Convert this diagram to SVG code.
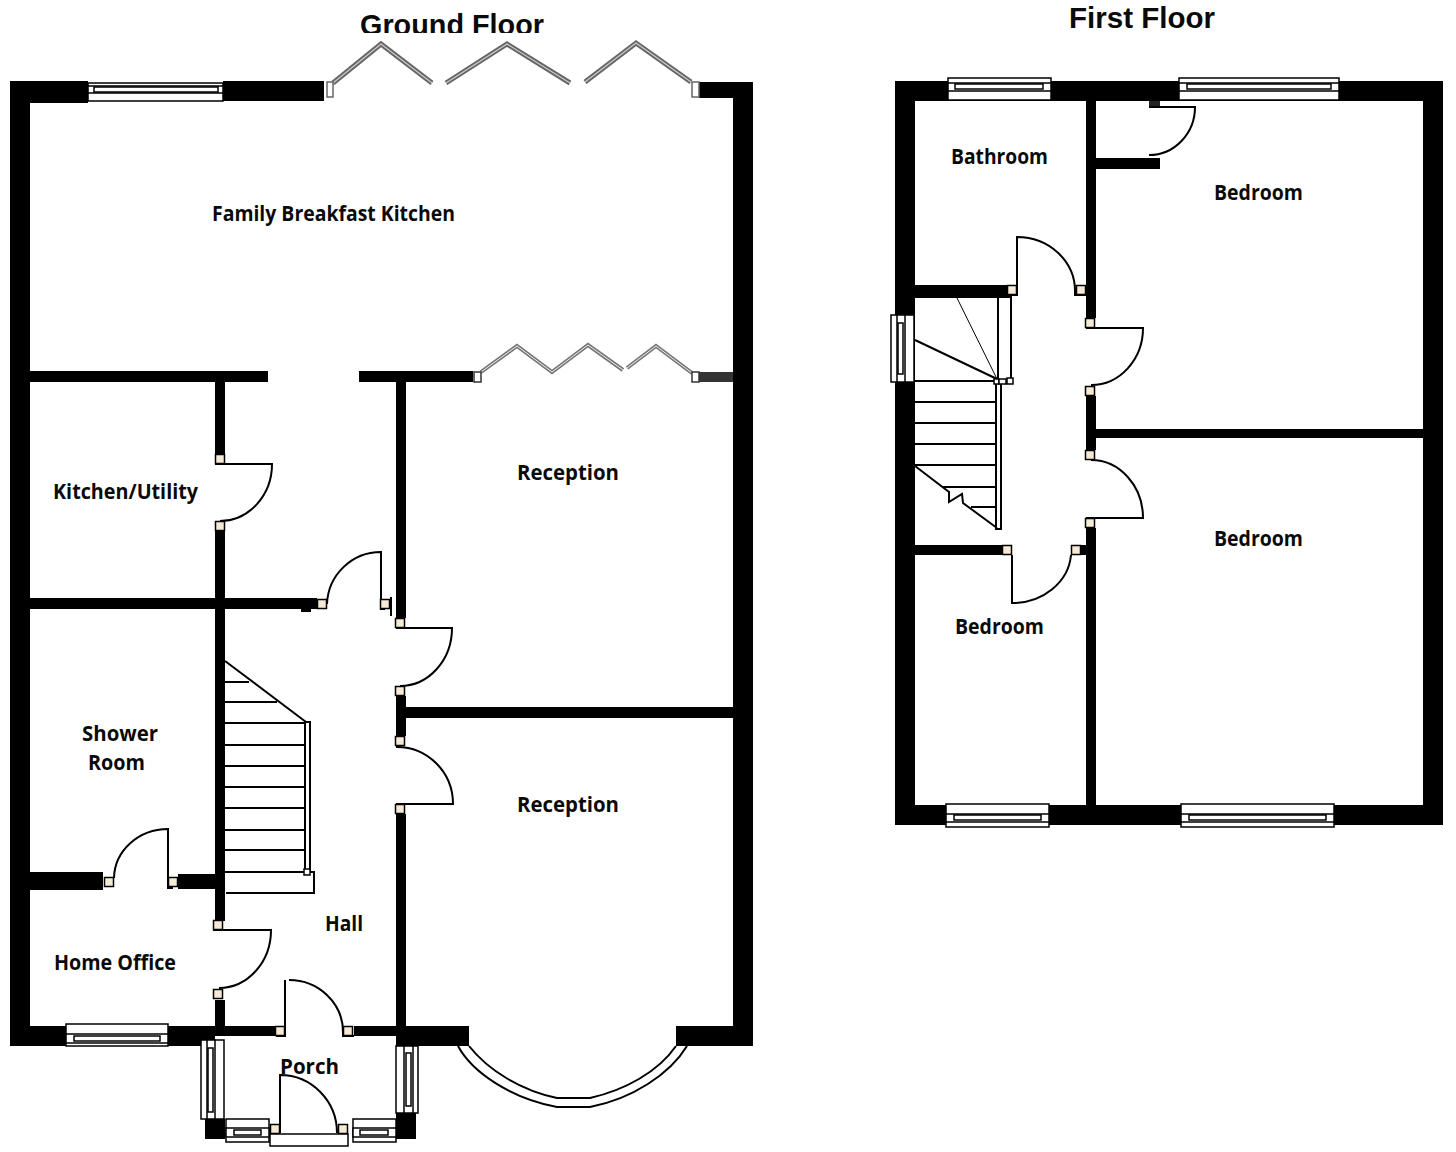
<svg xmlns="http://www.w3.org/2000/svg" width="1456" height="1152" viewBox="0 0 1456 1152">
<style>
.w{fill:#000}
.l{fill:none;stroke:#000;stroke-width:2}
.t{fill:none;stroke:#000;stroke-width:2}
.b{fill:#fff;stroke:#000;stroke-width:1.5}
.s{fill:#fff;stroke:#000;stroke-width:1.5}
.j{fill:#f6ead6;stroke:#000;stroke-width:1.5}
.f1{fill:none;stroke:#666;stroke-width:5}
.f2{fill:none;stroke:#ccc;stroke-width:1.2}
.g1{fill:none;stroke:#777;stroke-width:4}
.g2{fill:none;stroke:#eee;stroke-width:1}
.r{font-family:"Open Sans","DejaVu Sans",sans-serif;font-weight:700;font-size:21.5px;fill:#0a0a0a}
.h{font-family:"Liberation Sans",Arial,sans-serif;font-weight:700;font-size:30px;fill:#0a0a0a}
</style>
<defs>
<rect id="jb" class="j" x="-4.5" y="-4.5" width="9" height="9"/>
</defs>
<rect width="1456" height="1152" fill="#fff"/>

<g id="titles">
<text class="h" x="360" y="35" textLength="184" lengthAdjust="spacingAndGlyphs">Ground Floor</text>
<rect x="340" y="33" width="220" height="8" fill="#fff"/>
<text class="h" x="1069" y="28" textLength="146" lengthAdjust="spacingAndGlyphs">First Floor</text>
</g>

<g id="ground-walls">
<rect class="w" x="10" y="81" width="20" height="965"/>
<rect class="w" x="10" y="81" width="78" height="22"/>
<rect class="w" x="223" y="81" width="101" height="20"/>
<rect class="w" x="699" y="82" width="54" height="16"/>
<rect class="w" x="733" y="82" width="20" height="964"/>
<rect class="w" x="30" y="371" width="238" height="11"/>
<rect class="w" x="359" y="371" width="114" height="11"/>
<rect x="699" y="372" width="34" height="10" fill="#333"/>
<rect class="w" x="215" y="382" width="10" height="73"/>
<rect class="w" x="215" y="531" width="10" height="390"/>
<rect class="w" x="215" y="1000" width="10" height="30"/>
<rect class="w" x="396" y="382" width="10" height="236"/>
<rect class="w" x="396" y="696" width="10" height="40"/>
<rect class="w" x="396" y="814" width="10" height="216"/>
<rect class="w" x="30" y="598" width="287" height="11"/>
<rect class="w" x="301" y="609" width="10" height="3"/>
<rect class="w" x="406" y="707" width="327" height="11"/>
<rect class="w" x="30" y="872" width="73" height="18"/>
<rect class="w" x="178" y="874" width="37" height="15"/>
<rect class="w" x="30" y="1026" width="36" height="20"/>
<rect class="w" x="168" y="1026" width="47" height="20"/>
<rect class="w" x="215" y="1026" width="61" height="10"/>
<rect class="w" x="354" y="1026" width="42" height="10"/>
<rect class="w" x="396" y="1026" width="73" height="20"/>
<rect class="w" x="676" y="1026" width="57" height="20"/>
<rect class="w" x="205" y="1119" width="20" height="20"/>
<rect class="w" x="396" y="1113" width="20" height="26"/>
</g>

<g id="ground-windows">
<g id="gw-rear">
<rect class="b" x="88" y="83" width="135" height="18"/>
<rect class="b" x="88" y="86" width="135" height="7"/>
<rect class="s" x="94" y="87" width="124" height="5"/>
</g>
<g id="gw-office">
<rect class="b" x="66" y="1024" width="102" height="22"/>
<rect class="b" x="66" y="1034" width="102" height="9"/>
<rect class="s" x="74" y="1036" width="86" height="5"/>
</g>
<g id="gw-porch-left">
<rect class="b" x="201" y="1040" width="23" height="79"/>
<rect class="b" x="207" y="1040" width="8" height="79"/>
<rect class="s" x="208" y="1048" width="5" height="64"/>
</g>
<g id="gw-porch-right">
<rect class="b" x="396" y="1046" width="22" height="67"/>
<rect class="b" x="404" y="1046" width="9" height="67"/>
<rect class="s" x="406" y="1053" width="5" height="53"/>
</g>
<g id="gw-porch-bl">
<rect class="b" x="226" y="1119" width="43" height="23"/>
<rect class="b" x="226" y="1128" width="43" height="9"/>
<rect class="s" x="234" y="1130" width="27" height="5"/>
</g>
<g id="gw-porch-br">
<rect class="b" x="353" y="1119" width="43" height="23"/>
<rect class="b" x="353" y="1128" width="43" height="9"/>
<rect class="s" x="360" y="1130" width="28" height="5"/>
</g>
<g id="gw-bay">
<path class="l" d="M469 1046C488 1070 520 1090 557 1098H590C625 1090 658 1072 676 1046"/>
<path class="l" d="M458 1046C472 1072 510 1098 557 1107H590C632 1099 670 1074 687 1046"/>
</g>
</g>

<g id="ground-bifolds">
<path class="f1" d="M333 83L381 44L432 83M446 83L507 44L570 83M585 82L636 43L691 82"/>
<path class="f2" d="M333 83L381 44L432 83M446 83L507 44L570 83M585 82L636 43L691 82"/>
<rect x="327" y="82" width="6" height="15" stroke="#666" stroke-width="1.5" fill="#fff"/>
<rect x="692" y="82" width="7" height="15" stroke="#666" stroke-width="1.5" fill="#fff"/>
<path class="g1" d="M481 372L517 346L552 372L588 345L623 370M627 368L656 346L692 373"/>
<path class="g2" d="M481 372L517 346L552 372L588 345L623 370M627 368L656 346L692 373"/>
<rect x="474" y="372" width="7" height="10" stroke="#333" stroke-width="1.5" fill="#fff"/>
<rect x="692" y="372" width="7" height="10" stroke="#333" stroke-width="1.5" fill="#fff"/>
</g>

<g id="ground-doors">
<path class="l" d="M215 464H272A52 57 0 0 1 220 521"/>
<use href="#jb" x="220" y="459"/><use href="#jb" x="220" y="526"/>
<path class="l" d="M327 604A54 54 0 0 1 381 552V609H385M391 597V616"/>
<use href="#jb" x="322" y="604"/><use href="#jb" x="385" y="604"/>
<path class="l" d="M396 628H452A52 58 0 0 1 400 686"/>
<use href="#jb" x="400" y="623"/><use href="#jb" x="400" y="691"/>
<path class="l" d="M396 747A56 57 0 0 1 453 804H396"/>
<use href="#jb" x="400" y="741"/><use href="#jb" x="400" y="809"/>
<path class="l" d="M114 878A54 50 0 0 1 168 829V888H173"/>
<use href="#jb" x="109" y="882"/><use href="#jb" x="173" y="882"/>
<path class="l" d="M213 930H271A52 58 0 0 1 219 988"/>
<use href="#jb" x="218" y="925"/><use href="#jb" x="218" y="994"/>
<path class="l" d="M276 1036H285V980M289 980A54 52 0 0 1 343 1032V1036H354"/>
<use href="#jb" x="280" y="1031"/><use href="#jb" x="348" y="1031"/>
<path class="l" d="M280 1133V1075A57 58 0 0 1 337 1133"/>
<use href="#jb" x="275" y="1129"/><use href="#jb" x="343" y="1129"/>
<rect class="b" x="270" y="1134" width="78" height="12"/>
</g>

<g id="ground-stairs">
<path class="t" d="M225 661L306 722"/>
<path class="t" d="M225 682H249M225 702H277M225 723H305M225 745H305M225 766H305M225 787H305M225 808H305M225 830H305M225 850H305M225 872H305"/>
<rect class="t" x="305" y="722" width="5" height="150" fill="#fff"/>
<path class="l" d="M226 893H314V872H311"/>
<rect class="s" x="304" y="869" width="6" height="6"/>
</g>

<g id="first-walls">
<rect class="w" x="895" y="81" width="20" height="744"/>
<rect class="w" x="895" y="81" width="548" height="20"/>
<rect class="w" x="1423" y="81" width="20" height="744"/>
<rect class="w" x="895" y="805" width="548" height="20"/>
<rect class="w" x="1086" y="101" width="10" height="217"/>
<rect class="w" x="1086" y="396" width="10" height="54"/>
<rect class="w" x="1086" y="528" width="10" height="277"/>
<rect class="w" x="1096" y="429" width="327" height="9"/>
<rect class="w" x="1096" y="158" width="64" height="11"/>
<rect x="1149" y="101" width="11" height="5" fill="#222"/>
<rect class="w" x="915" y="285" width="93" height="11"/>
<rect class="w" x="915" y="545" width="88" height="10"/>
<rect class="w" x="1081" y="545" width="5" height="10"/>
</g>

<g id="first-windows">
<g id="fw-bath">
<rect class="b" x="948" y="78" width="103" height="22"/>
<rect class="b" x="948" y="83" width="103" height="8"/>
<rect class="s" x="955" y="84" width="88" height="5"/>
</g>
<g id="fw-bed-rear">
<rect class="b" x="1179" y="78" width="160" height="22"/>
<rect class="b" x="1179" y="83" width="160" height="8"/>
<rect class="s" x="1187" y="84" width="144" height="5"/>
</g>
<g id="fw-bed-front-left">
<rect class="b" x="946" y="804" width="103" height="23"/>
<rect class="b" x="946" y="814" width="103" height="8"/>
<rect class="s" x="954" y="815" width="87" height="5"/>
</g>
<g id="fw-bed-front-right">
<rect class="b" x="1181" y="804" width="153" height="23"/>
<rect class="b" x="1181" y="814" width="153" height="8"/>
<rect class="s" x="1189" y="815" width="137" height="5"/>
</g>
<g id="fw-landing">
<rect class="b" x="891" y="315" width="23" height="67"/>
<rect class="b" x="897" y="315" width="8" height="67"/>
<rect class="s" x="898" y="323" width="5" height="51"/>
</g>
</g>

<g id="first-doors">
<path class="l" d="M1149 107H1195A46 48 0 0 1 1149 155"/>
<path class="l" d="M1008 295H1017V237A58 54 0 0 1 1075 291V295H1086"/>
<use href="#jb" x="1012" y="290"/><use href="#jb" x="1081" y="290"/>
<path class="l" d="M1086 328H1143A52 57 0 0 1 1091 385"/>
<use href="#jb" x="1090" y="323"/><use href="#jb" x="1090" y="391"/>
<path class="l" d="M1091 460A52 58 0 0 1 1143 518H1086"/>
<use href="#jb" x="1090" y="455"/><use href="#jb" x="1090" y="523"/>
<path class="l" d="M1012 555V603A59 52 0 0 0 1071 555"/>
<use href="#jb" x="1007" y="550"/><use href="#jb" x="1076" y="550"/>
</g>

<g id="first-stairs">
<path class="t" d="M915 297H1011V381M998 297V380M915 340L997 379M915 381H1000" stroke-width="1.5"/>
<path d="M957 298L997 379" fill="none" stroke="#000" stroke-width="1"/>
<path class="t" d="M915 402H996M915 423H996M915 444H996M915 465H996M942 487H996M971 507H996"/>
<path class="t" d="M915 466L949 492L949 502L962 494L963 503L997 528"/>
<rect class="t" x="996" y="381" width="5" height="148" fill="#fff"/>
<rect class="s" x="994" y="379" width="5" height="5"/>
<rect x="999" y="379" width="7" height="5" fill="#fff" stroke="#000" stroke-width="1.5"/>
<rect class="s" x="1007" y="378" width="6" height="6"/>
</g>

<g id="labels">
<text class="r" x="212" y="221" textLength="243" lengthAdjust="spacingAndGlyphs">Family Breakfast Kitchen</text>
<text class="r" x="517" y="480" textLength="102" lengthAdjust="spacingAndGlyphs">Reception</text>
<text class="r" x="517" y="812" textLength="102" lengthAdjust="spacingAndGlyphs">Reception</text>
<text class="r" x="53" y="499" textLength="145" lengthAdjust="spacingAndGlyphs">Kitchen/Utility</text>
<text class="r" x="82" y="741" textLength="76" lengthAdjust="spacingAndGlyphs">Shower</text>
<text class="r" x="88" y="770" textLength="57" lengthAdjust="spacingAndGlyphs">Room</text>
<text class="r" x="54" y="970" textLength="122" lengthAdjust="spacingAndGlyphs">Home Office</text>
<text class="r" x="325" y="931" textLength="38" lengthAdjust="spacingAndGlyphs">Hall</text>
<text class="r" x="280" y="1074" textLength="59" lengthAdjust="spacingAndGlyphs">Porch</text>
<text class="r" x="951" y="164" textLength="97" lengthAdjust="spacingAndGlyphs">Bathroom</text>
<text class="r" x="1214" y="200" textLength="89" lengthAdjust="spacingAndGlyphs">Bedroom</text>
<text class="r" x="1214" y="546" textLength="89" lengthAdjust="spacingAndGlyphs">Bedroom</text>
<text class="r" x="955" y="634" textLength="89" lengthAdjust="spacingAndGlyphs">Bedroom</text>
</g>
</svg>
